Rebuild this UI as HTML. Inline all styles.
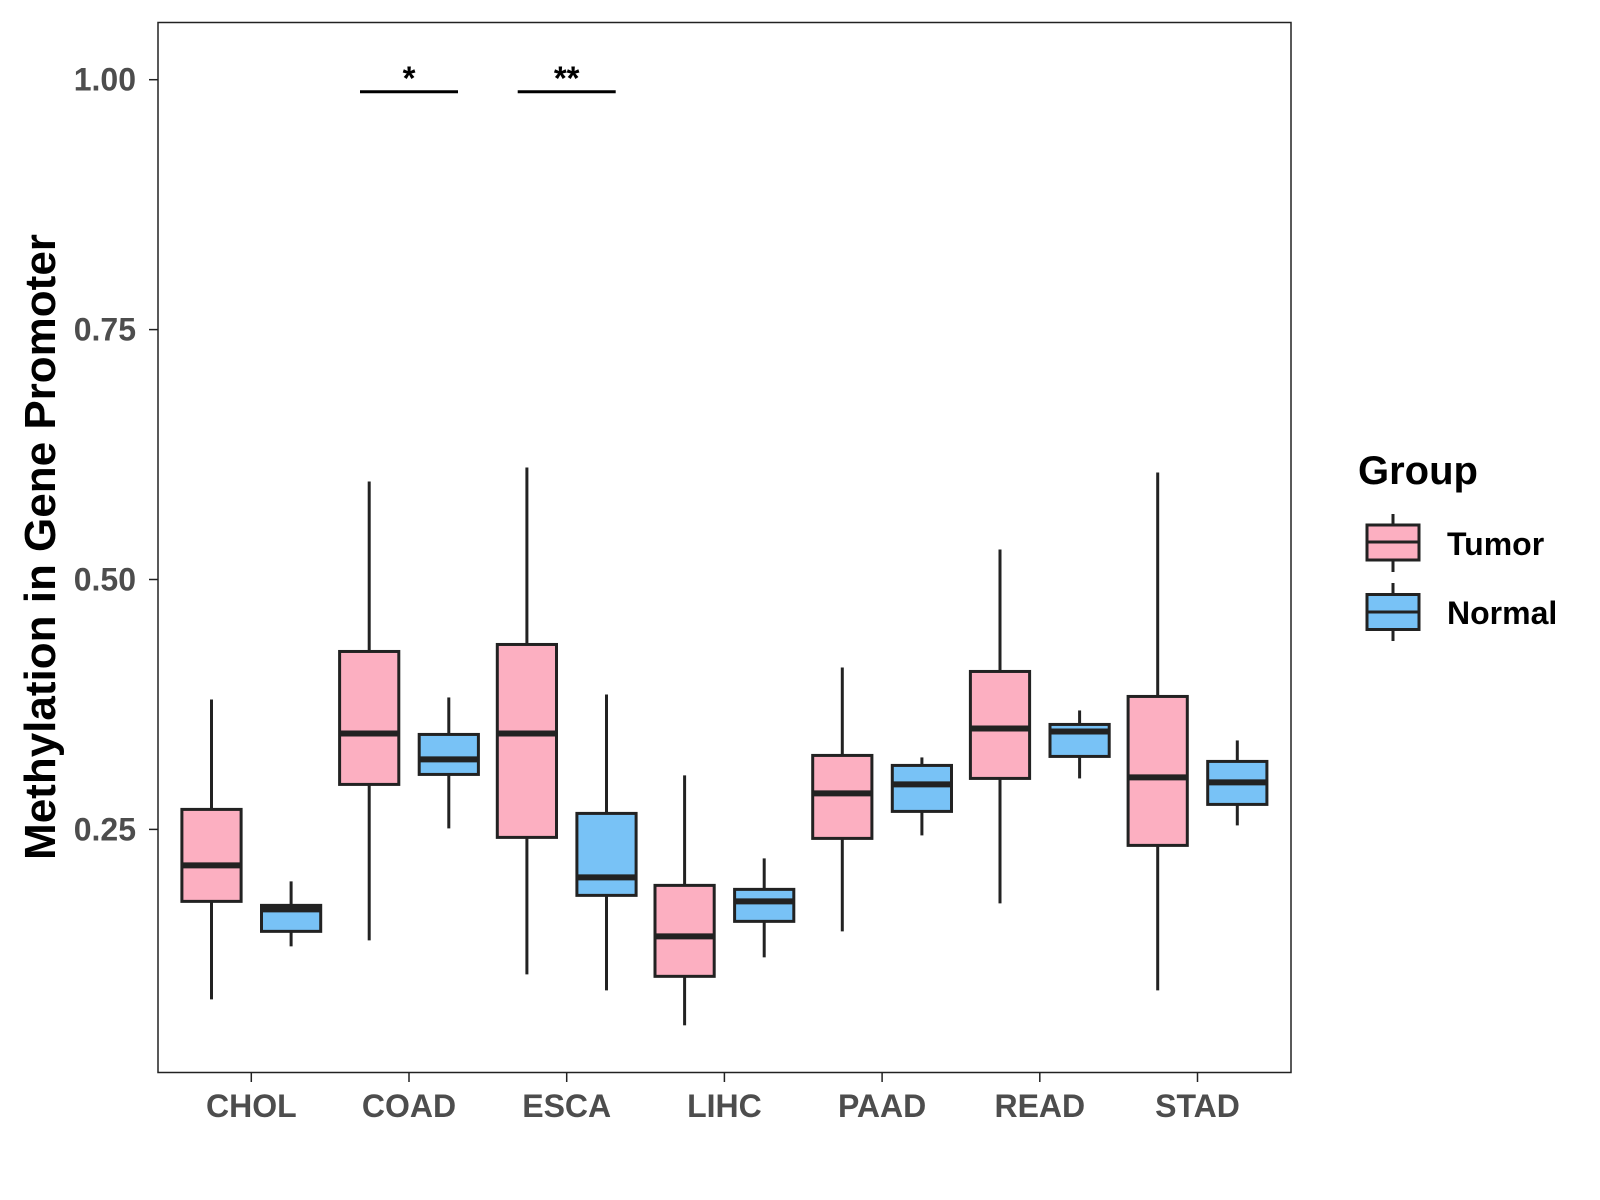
<!DOCTYPE html>
<html><head><meta charset="utf-8">
<style>
html,body{margin:0;padding:0;background:#fff;}
svg{display:block;font-family:"Liberation Sans",Arial,sans-serif;}
</style></head>
<body>
<svg id="chart" width="1600" height="1200" viewBox="0 0 1600 1200">
<rect x="0" y="0" width="1600" height="1200" fill="#fff"/>
<rect x="158" y="22.5" width="1133" height="1050" fill="#fff" stroke="#222" stroke-width="1.5"/>
<g id="yaxis"></g>
<g id="xaxis"></g>
<g id="boxes"></g>
<g id="sig"></g>
<text x="55" y="547" transform="rotate(-90 55 547)" text-anchor="middle" font-size="44" font-weight="bold" fill="#000">Methylation in Gene Promoter</text>
<g>
<text x="1358" y="484" font-size="40" font-weight="bold" fill="#000">Group</text>
<g>
<line x1="1393" y1="514" x2="1393" y2="572" stroke="#222" stroke-width="3"/>
<rect x="1367" y="525" width="52" height="35" fill="#fcafc1" stroke="#222" stroke-width="3"/>
<line x1="1367" y1="542" x2="1419" y2="542" stroke="#222" stroke-width="3"/>
<text x="1447" y="555" font-size="32" font-weight="bold" fill="#000">Tumor</text>
</g>
<g>
<line x1="1393" y1="583" x2="1393" y2="641" stroke="#222" stroke-width="3"/>
<rect x="1367" y="594.5" width="52" height="35" fill="#78c2f6" stroke="#222" stroke-width="3"/>
<line x1="1367" y1="612" x2="1419" y2="612" stroke="#222" stroke-width="3"/>
<text x="1447" y="624" font-size="32" font-weight="bold" fill="#000">Normal</text>
</g>
</g>
</svg>
<script>
const categories = ["CHOL","COAD","ESCA","LIHC","PAAD","READ","STAD"];
const tumorMin = [0.080,0.139,0.105,0.054,0.148,0.176,0.089];
const tumorQ1  = [0.178,0.295,0.242,0.103,0.241,0.301,0.234];
const tumorMed = [0.214,0.346,0.346,0.143,0.286,0.351,0.302];
const tumorQ3  = [0.270,0.428,0.435,0.194,0.324,0.408,0.383];
const tumorMax = [0.380,0.598,0.612,0.304,0.412,0.530,0.607];
const normalMin = [0.133,0.251,0.089,0.122,0.244,0.301,0.254];
const normalQ1  = [0.148,0.305,0.184,0.158,0.268,0.323,0.275];
const normalMed = [0.170,0.320,0.202,0.178,0.295,0.348,0.297];
const normalQ3  = [0.174,0.345,0.266,0.190,0.314,0.355,0.318];
const normalMax = [0.198,0.382,0.385,0.221,0.322,0.369,0.339];
const yTicks = [0.25,0.50,0.75,1.00];
const yTickLabels = ["0.25","0.50","0.75","1.00"];
const sigCategories = ["COAD","ESCA"];
const sigLabels = ["*","**"];
const sigLevel = 0.988;

const NS="http://www.w3.org/2000/svg";
function y(v){ return 79.7 + (1 - v) * 999.6; }
function x(i){ return 251.3 + i * 157.7; }
function mk(tag, attrs, parent){
  const e=document.createElementNS(NS,tag);
  for(const k in attrs) e.setAttribute(k, attrs[k]);
  parent.appendChild(e); return e;
}
const ya=document.getElementById('yaxis');
yTicks.forEach((t,i)=>{
  const g=mk('g',{},ya);
  
  
  mk('line',{x1:149,x2:158,y1:y(t),y2:y(t),stroke:'#222','stroke-width':1.5},g);
  const tx=mk('text',{x:136,y:y(t)+11,'text-anchor':'end','font-size':32,'font-weight':'bold',fill:'#4d4d4d'},g);
  tx.textContent=yTickLabels[i];
});
const xa=document.getElementById('xaxis');
categories.forEach((c,i)=>{
  const g=mk('g',{},xa);
  
  
  mk('line',{x1:x(i),x2:x(i),y1:1072.5,y2:1082,stroke:'#222','stroke-width':1.5},g);
  const tx=mk('text',{x:x(i),y:1117,'text-anchor':'middle','font-size':32,'font-weight':'bold',fill:'#4d4d4d'},g);
  tx.textContent=c;
});
const bx=document.getElementById('boxes');
function drawBox(cx, mn,q1,md,q3,mx, fill, name){
  const g=mk('g',{},bx);
  
  
  const w=59.2;
  mk('line',{x1:cx,x2:cx,y1:y(mx),y2:y(q3),stroke:'#222','stroke-width':3},g);
  mk('line',{x1:cx,x2:cx,y1:y(q1),y2:y(mn),stroke:'#222','stroke-width':3},g);
  mk('rect',{x:cx-w/2,y:y(q3),width:w,height:y(q1)-y(q3),fill:fill,stroke:'#222','stroke-width':3},g);
  mk('line',{x1:cx-w/2,x2:cx+w/2,y1:y(md),y2:y(md),stroke:'#222','stroke-width':6},g);
}
categories.forEach((c,i)=>{
  drawBox(x(i)-39.8, tumorMin[i],tumorQ1[i],tumorMed[i],tumorQ3[i],tumorMax[i],'#fcafc1','box-tumor-'+c.toLowerCase());
  drawBox(x(i)+39.8, normalMin[i],normalQ1[i],normalMed[i],normalQ3[i],normalMax[i],'#78c2f6','box-normal-'+c.toLowerCase());
});
const sg=document.getElementById('sig');
sigCategories.forEach((c,k)=>{
  const i=categories.indexOf(c);
  const g=mk('g',{},sg);
  
  
  mk('line',{x1:x(i)-49,x2:x(i)+49,y1:y(sigLevel),y2:y(sigLevel),stroke:'#000','stroke-width':3},g);
  const t=mk('text',{x:x(i),y:y(sigLevel)-2,'text-anchor':'middle','font-size':33,'font-weight':'bold',fill:'#000'},g);
  t.textContent=sigLabels[k];
});
</script>
</body></html>
